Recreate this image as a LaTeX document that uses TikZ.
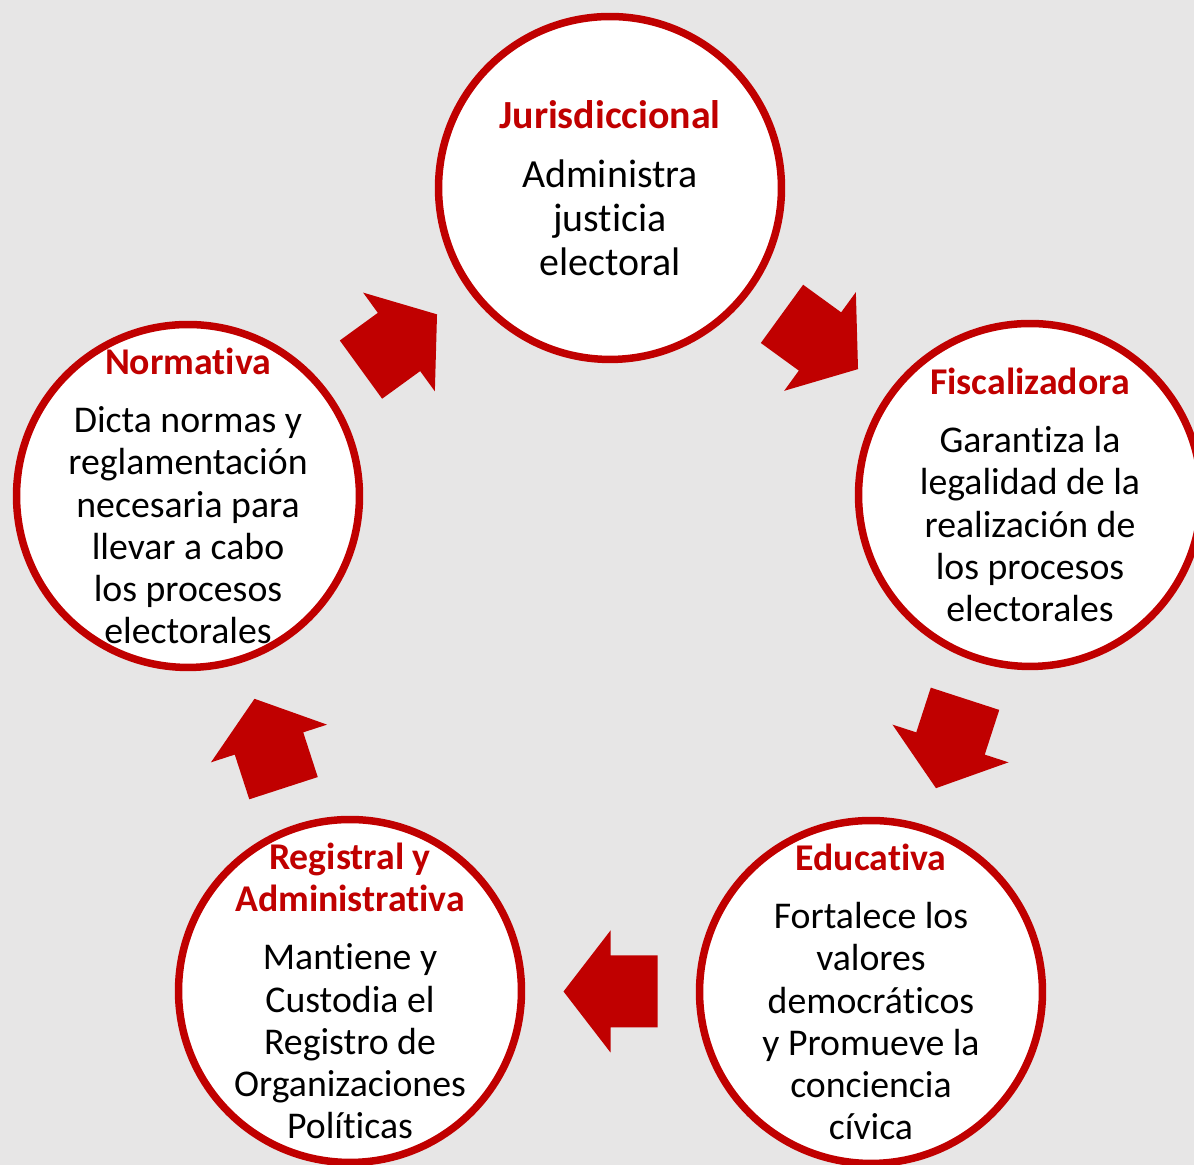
\documentclass[tikz,border=0pt]{standalone}
\usepackage{fontspec}
\setmainfont{Carlito}[Ligatures=NoCommon]
\usetikzlibrary{calc}
\definecolor{ringred}{HTML}{C00000}
\definecolor{backgray}{HTML}{E7E6E6}
\newcommand{\stagetitle}[1]{\textbf{\color{ringred}#1}}

\tikzset{
  stage/.style={circle, draw=ringred, fill=white, line width=0.15cm,
    minimum size=6.86cm, inner sep=0pt},
  stagetext/.style={align=center, inner sep=0pt,
    font=\fontsize{21.5}{24}\selectfont},
  flowarrow/.pic={
    \fill[ringred] (-47,-36) -- (0,-36) -- (0,-61) -- (47,0)
      -- (0,61) -- (0,36) -- (-47,36) -- cycle;
  }
}

\begin{document}
\begin{tikzpicture}[x=0.02cm, y=0.02cm]
          % page and background
          \clip (0,0) rectangle (1194,1165);
          \fill[backgray] (0,0) rectangle (1194,1165);

          % the five functions
          \node[stage] (jur) at (610,977) {};
          \node[stage] (fis) at (1030,670) {};
          \node[stage] (edu) at (871,173) {};
          \node[stage] (reg) at (350,174) {};
          \node[stage] (nor) at (188,669) {};

          % texts
          \node[stagetext, font=\fontsize{22.7}{25}\selectfont] (jur-t) at (jur)
            {\stagetitle{Jurisdiccional}\\[9pt] Administra\\ justicia\\ electoral};
          \node[stagetext] (fis-t) at (fis) {\stagetitle{Fiscalizadora}\\[9pt]
            Garantiza la\\ legalidad de la\\ realización de\\ los procesos\\ electorales};
          \node[stagetext] (edu-t) at (edu) {\stagetitle{Educativa}\\[9pt]
            Fortalece los\\ valores\\ democráticos\\ y Promueve la\\ conciencia\\ cívica};
          \node[stagetext] (reg-t) at (reg) {\stagetitle{Registral y}\\ \stagetitle{Administrativa}\\[9pt]
            Mantiene y\\ Custodia el\\ Registro de\\ Organizaciones\\ Políticas};
          \node[stagetext] (nor-t) at (nor) {\stagetitle{Normativa}\\[9pt]
            Dicta normas y\\ reglamentación\\ necesaria para\\ llevar a cabo\\ los procesos\\ electorales};

          % block arrows between the circles
          \pic[rotate=36] at ($(nor)!0.5!(jur)$) {flowarrow};
          \pic[rotate=-36] at ($(jur)!0.5!(fis)$) {flowarrow};
          \pic[rotate=-108] at ($(fis)!0.5!(edu)$) {flowarrow};
          \pic[rotate=180] at ($(edu)!0.5!(reg)$) {flowarrow};
          \pic[rotate=108] at ($(reg)!0.5!(nor)$) {flowarrow};
        \end{tikzpicture}
\end{document}
